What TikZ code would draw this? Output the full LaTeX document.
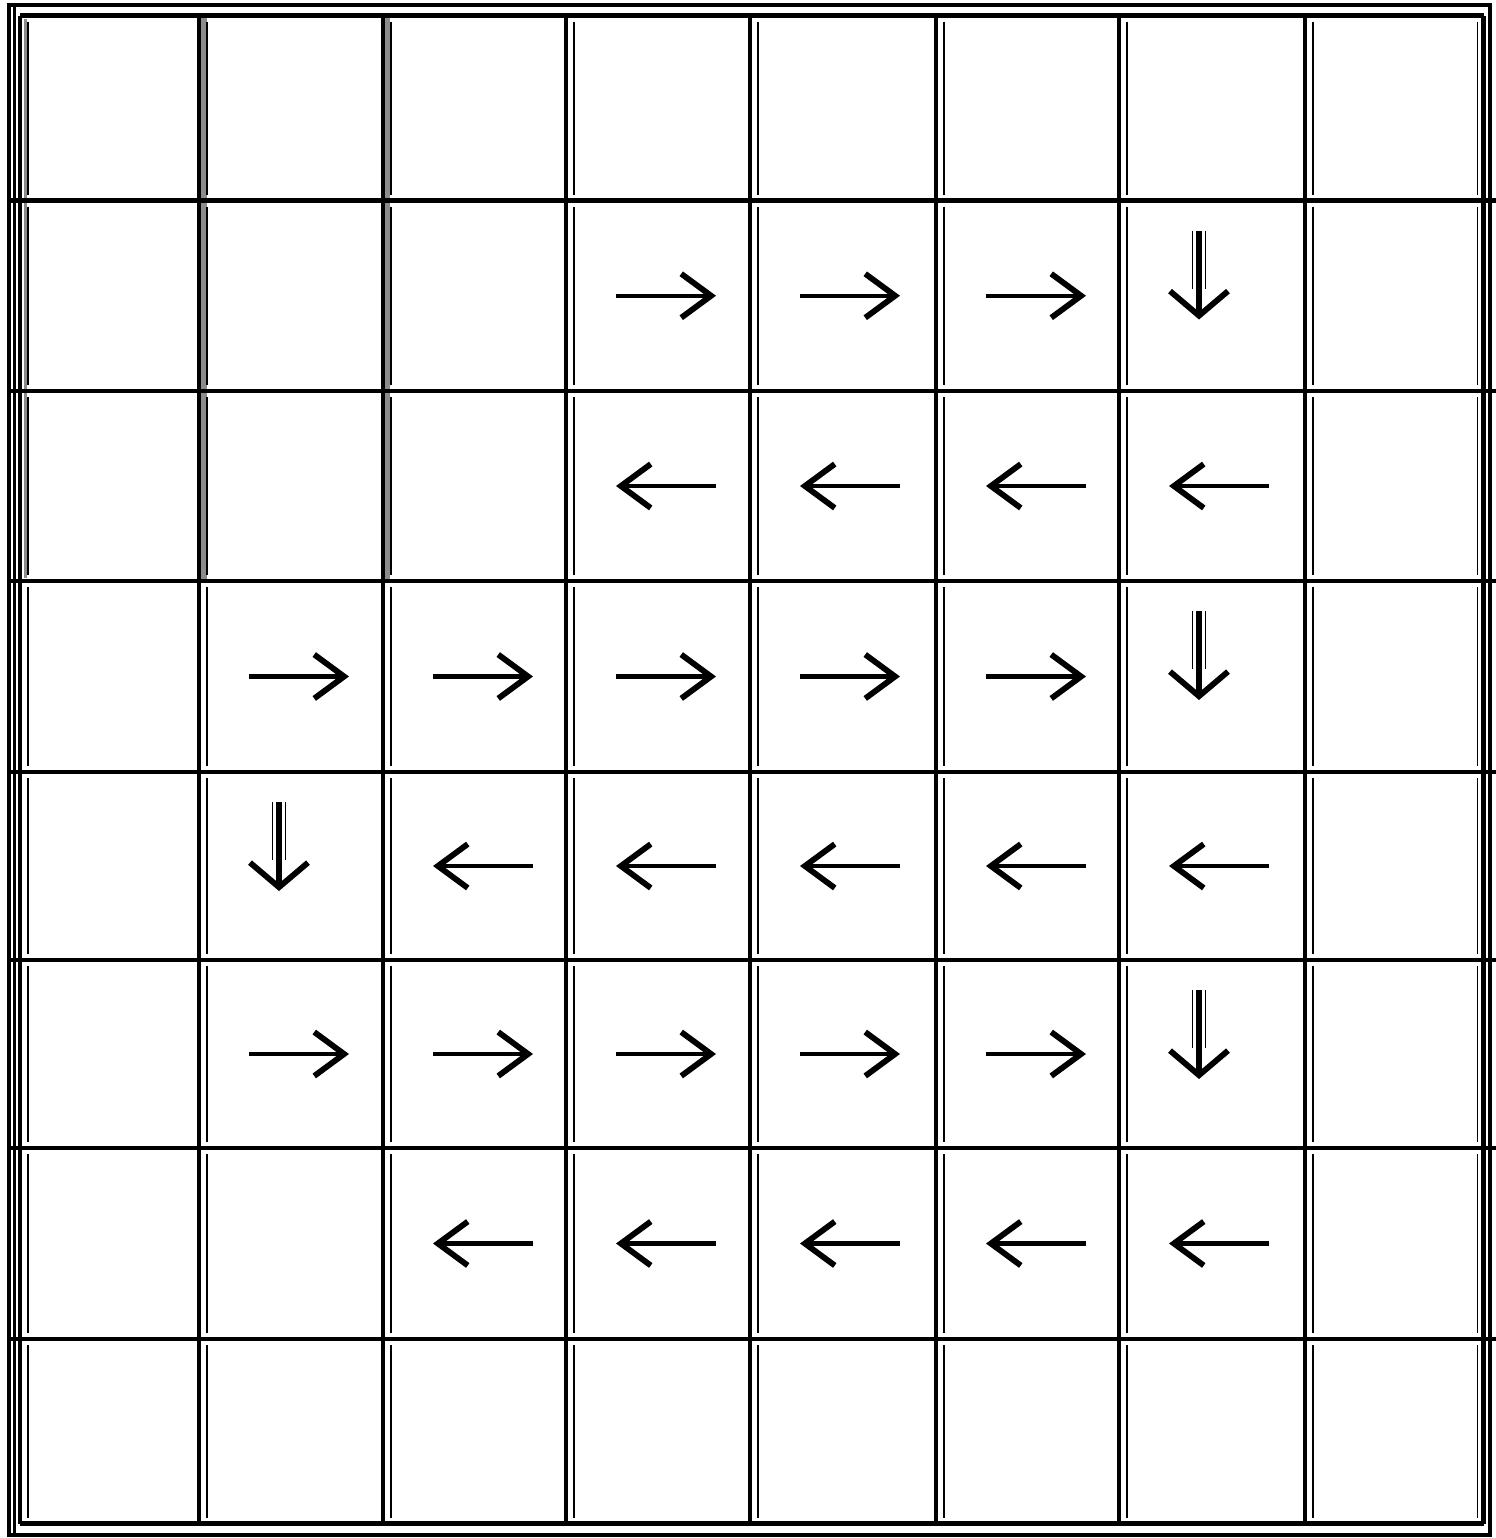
\documentclass[tikz,border=0pt]{standalone}
\usepackage{tikz}
\usetikzlibrary{arrows.meta,calc}

\begin{document}
\begin{tikzpicture}[x=0.02cm,y=-0.02cm]

\tikzstyle{grid line}=[line width=2.8pt]
\tikzstyle{inner line}=[line width=0.6pt]
\tikzstyle{shade}=[draw=none,fill=black!45]
\tikzstyle{flow}=[line width=2.3pt,-{Straight Barb[length=17pt,width=25pt,line width=3.3pt]}]
\tikzstyle{flow down}=[line width=2.9pt,-{Straight Barb[length=14pt,width=33pt,line width=3.3pt]}]
\tikzstyle{hollow}=[line width=0.7pt,double=white,double distance=6.8pt]

   \useasboundingbox (0,0) rectangle (1496,1538);

   % grid positions
   \foreach \x [count=\i from 0] in {20,199,383,566,750,936,1119,1305,1483.5}
      \coordinate (v\i) at (\x,0);
   \foreach \y [count=\j from 0] in {15.5,200.5,391,581,772,960,1148,1339,1523.5}
      \coordinate (h\j) at (0,\y);

   %draw frame
   \draw[grid line] (9,5) rectangle (1490,1535);
   \draw[line width=1.9pt] (14.5,5) -- (14.5,1535);

   %shaded columns in the first rows
   \fill[shade] ($(v1|-h0)+(1,2)$) rectangle ($(v1|-h3)+(8,-2)$);
   \fill[shade] ($(v2|-h0)+(1,2)$) rectangle ($(v2|-h3)+(7,-2)$);
   \fill[shade] ($(v0|-h0)+(4,3)$) rectangle ($(v0|-h3)+(7,-3)$);

   %thin lines inside the cells
   \foreach \j in {0,...,7}{
      \pgfmathtruncatemacro\jj{\j+1}
      \foreach \i in {0,...,7}
         \draw[inner line] ($(v\i|-h\j)+(8,6)$) -- ($(v\i|-h\jj)+(8,-6)$);
      \draw[inner line] ($(v8|-h\j)+(-6,6)$) -- ($(v8|-h\jj)+(-6,-6)$);
   }

   %draw grid
   \foreach \i in {0,...,8}
      \draw[grid line] (v\i|-h0) -- (v\i|-h8);
   \foreach \j in {0,...,8}
      \draw[grid line] (v0|-h\j) -- (v8|-h\j);
   \foreach \j in {1,...,7}{
      \draw[grid line] (v8|-h\j) -- +(13,0);
      \draw[grid line] (v0|-h\j) -- +(-11,0);
   }

   %arrows to the right
   \foreach \r/\c in {1/3,1/4,1/5,3/1,3/2,3/3,3/4,3/5,5/1,5/2,5/3,5/4,5/5}{
      \pgfmathtruncatemacro\rr{\r+1}
      \draw[flow] ($(v\c|-h\r)!0.5!(v\c|-h\rr)+(50,0)$) -- +(100,0);
   }

   %arrows to the left
   \foreach \r/\c in {2/3,2/4,2/5,2/6,4/2,4/3,4/4,4/5,4/6,6/2,6/3,6/4,6/5,6/6}{
      \pgfmathtruncatemacro\rr{\r+1}
      \draw[flow] ($(v\c|-h\r)!0.5!(v\c|-h\rr)+(150,0)$) -- +(-100,0);
   }

   %arrows down
   \foreach \r/\c in {1/6,3/6,4/1,5/6}{
      \draw[hollow] ($(v\c|-h\r)+(80,30)$) -- +(0,58);
      \draw[flow down] ($(v\c|-h\r)+(80,30)$) -- +(0,89);
   }

\end{tikzpicture}
\end{document}
